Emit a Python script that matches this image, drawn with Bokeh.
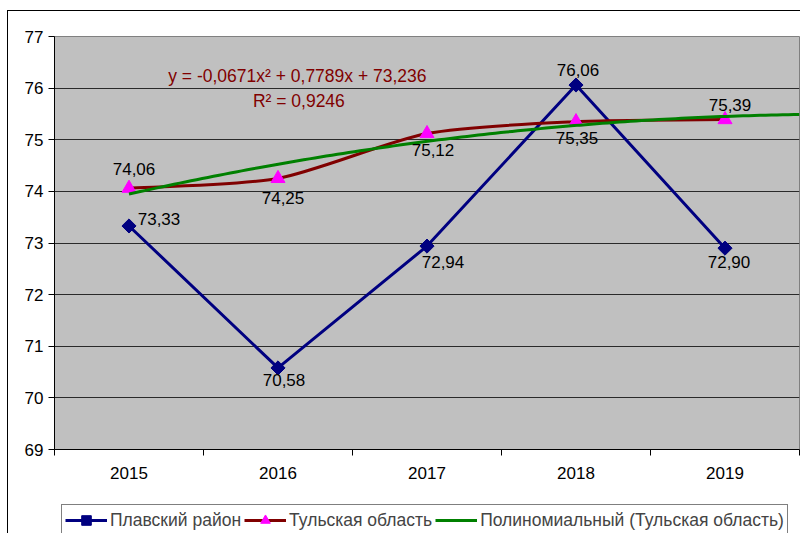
import numpy as np
from bokeh.plotting import figure
from bokeh.layouts import column
from bokeh.models import Range1d, FixedTicker, Legend, LegendItem, Label
from bokeh.embed import file_html
from bokeh.resources import INLINE
from bokeh.core.properties import value

# ---- data ----
years = ["2015", "2016", "2017", "2018", "2019"]
plavsk = [73.33, 70.58, 72.94, 76.06, 72.90]      # Плавский район
tula = [74.06, 74.25, 75.12, 75.35, 75.39]        # Тульская область
y_ticks = [69, 70, 71, 72, 73, 74, 75, 76, 77]
series_names = ["Плавский район", "Тульская область", "Полиномиальный (Тульская область)"]
eq_text = "y = -0,0671x\u00b2 + 0,7789x + 73,236"
r2_text = "R\u00b2 = 0,9246"
trend_forward = 0.5   # forecast periods of the trendline

# ---- styles ----
FONT = "Liberation Sans"
NAVY = "#000080"
BROWN = "#800000"
MAGENTA = "#FF00FF"
GREEN = "#008000"
# label offsets in pixels (dx, dy; dy positive = down)
pl_off = [(30, -7), (6, 12), (16, 16), (2, -15), (4, 14)]
tu_off = [(5, -19), (5, 20), (6, 16), (1, 16), (5, -15)]

n = len(years)
xs = np.arange(1, n + 1, dtype=float)

p = figure(width=792, height=486, output_backend="svg", toolbar_location=None,
           x_range=Range1d(0.5, n + 0.5), y_range=Range1d(y_ticks[0], y_ticks[-1]),
           min_border_left=46, min_border_top=25, min_border_right=1, min_border_bottom=48)
p.background_fill_color = "#C0C0C0"
p.border_fill_color = "white"
p.outline_line_color = "#808080"
p.outline_line_width = 1

# axes
p.xaxis.ticker = FixedTicker(ticks=list(xs), minor_ticks=list(np.arange(0.5, n + 1, 1.0)))
p.xaxis.major_label_overrides = {int(x): y for x, y in zip(xs, years)}
p.xaxis.major_tick_line_color = None
p.xaxis.major_tick_out = 0
p.xaxis.major_tick_in = 0
p.xaxis.minor_tick_line_color = "black"
p.xaxis.minor_tick_out = 6
p.xaxis.minor_tick_in = 0
p.xaxis.major_label_standoff = 11
p.yaxis.ticker = FixedTicker(ticks=y_ticks)
p.yaxis.major_tick_out = 6
p.yaxis.major_tick_in = 0
p.yaxis.minor_tick_line_color = None
p.yaxis.major_label_standoff = 5
for ax in (p.xaxis, p.yaxis):
    ax.axis_line_color = "black"
    ax.major_label_text_font = FONT
    ax.major_label_text_font_size = "17px"
    ax.major_label_text_color = "black"
p.xgrid.grid_line_color = None
p.ygrid.grid_line_color = "#2a2a2a"
p.ygrid.grid_line_width = 1

# Плавский район
pl_style = dict(line_color=NAVY, line_width=3)
pl_mark = dict(marker="square", angle=np.pi / 4, size=10, fill_color=NAVY, line_color=NAVY)
p.line(xs, plavsk, **pl_style)
p.scatter(xs, plavsk, **pl_mark)

# Тульская область: smoothed line (Bezier segments through the data points)
P = np.column_stack([xs, np.array(tula)])
Pe = np.vstack([P[0], P, P[-1]])
k = 1.0 / 8.0
c0 = P[:-1] + (Pe[2:n + 1] - Pe[0:n - 1]) * k
c1 = P[1:] - (Pe[3:n + 2] - Pe[1:n]) * k
p.bezier(x0=P[:-1, 0], y0=P[:-1, 1], x1=P[1:, 0], y1=P[1:, 1],
         cx0=c0[:, 0], cy0=c0[:, 1], cx1=c1[:, 0], cy1=c1[:, 1],
         line_color=BROWN, line_width=3)
tu_mark = dict(marker="triangle", size=14, fill_color=MAGENTA, line_color=MAGENTA)
p.scatter(xs, tula, **tu_mark)

# polynomial trendline (order 2) of Тульская область
coef = np.polyfit(xs, tula, 2)
xt = np.linspace(xs[0], xs[-1] + trend_forward, 120)
p.line(xt, np.polyval(coef, xt), line_color=GREEN, line_width=3)

# data labels
def fmt(v):
    return f"{v:.2f}".replace(".", ",")

p.text(x=xs, y=plavsk, text=[fmt(v) for v in plavsk],
       x_offset=[o[0] for o in pl_off], y_offset=[o[1] for o in pl_off],
       text_align="center", text_baseline="middle", text_font=value(FONT),
       text_font_size="17px", text_color="black")
p.text(x=xs, y=tula, text=[fmt(v) for v in tula],
       x_offset=[o[0] for o in tu_off], y_offset=[o[1] for o in tu_off],
       text_align="center", text_baseline="middle", text_font=value(FONT),
       text_font_size="17px", text_color="black")

# trendline equation
p.add_layout(Label(x=2.13, y=76.24, text=eq_text, text_align="center", text_baseline="middle",
                   text_font=FONT, text_font_size="17.5px", text_color=BROWN))
p.add_layout(Label(x=2.14, y=75.76, text=r2_text, text_align="center", text_baseline="middle",
                   text_font=FONT, text_font_size="17.5px", text_color=BROWN))

# ---- legend strip (separate figure under the chart) ----
pl = figure(width=792, height=36, output_backend="svg", toolbar_location=None,
            x_range=Range1d(0, 1), y_range=Range1d(0, 1),
            x_axis_location=None, y_axis_location=None,
            min_border=0, min_border_left=0, min_border_right=0,
            min_border_top=0, min_border_bottom=0)
pl.grid.visible = False
pl.outline_line_color = None
pl.background_fill_color = "white"
pl.border_fill_color = "white"
nan = np.array([np.nan])
l1 = pl.line(nan, nan, **pl_style)
m1 = pl.scatter(nan, nan, **pl_mark)
l2 = pl.line(nan, nan, line_color=BROWN, line_width=3)
m2 = pl.scatter(nan, nan, **tu_mark)
l3 = pl.line(nan, nan, line_color=GREEN, line_width=3)

legend = Legend(items=[LegendItem(label=series_names[0], renderers=[l1, m1]),
                       LegendItem(label=series_names[1], renderers=[l2, m2]),
                       LegendItem(label=series_names[2], renderers=[l3])],
                orientation="horizontal", location=(7, -3))
legend.border_line_color = "black"
legend.border_line_width = 1
legend.background_fill_color = "white"
legend.background_fill_alpha = 1
legend.label_text_font = FONT
legend.label_text_font_size = "17.5px"
legend.glyph_width = 42
legend.glyph_height = 24
legend.label_height = 24
legend.label_standoff = 3
legend.spacing = 3
legend.padding = 3
legend.margin = 0
pl.add_layout(legend)

layout = column(p, pl, spacing=0,
                styles={"margin-left": "7px", "margin-top": "10px",
                        "border-left": "1px solid black", "border-top": "1px solid black"})

open("out.html", "w").write(file_html(layout, INLINE))
